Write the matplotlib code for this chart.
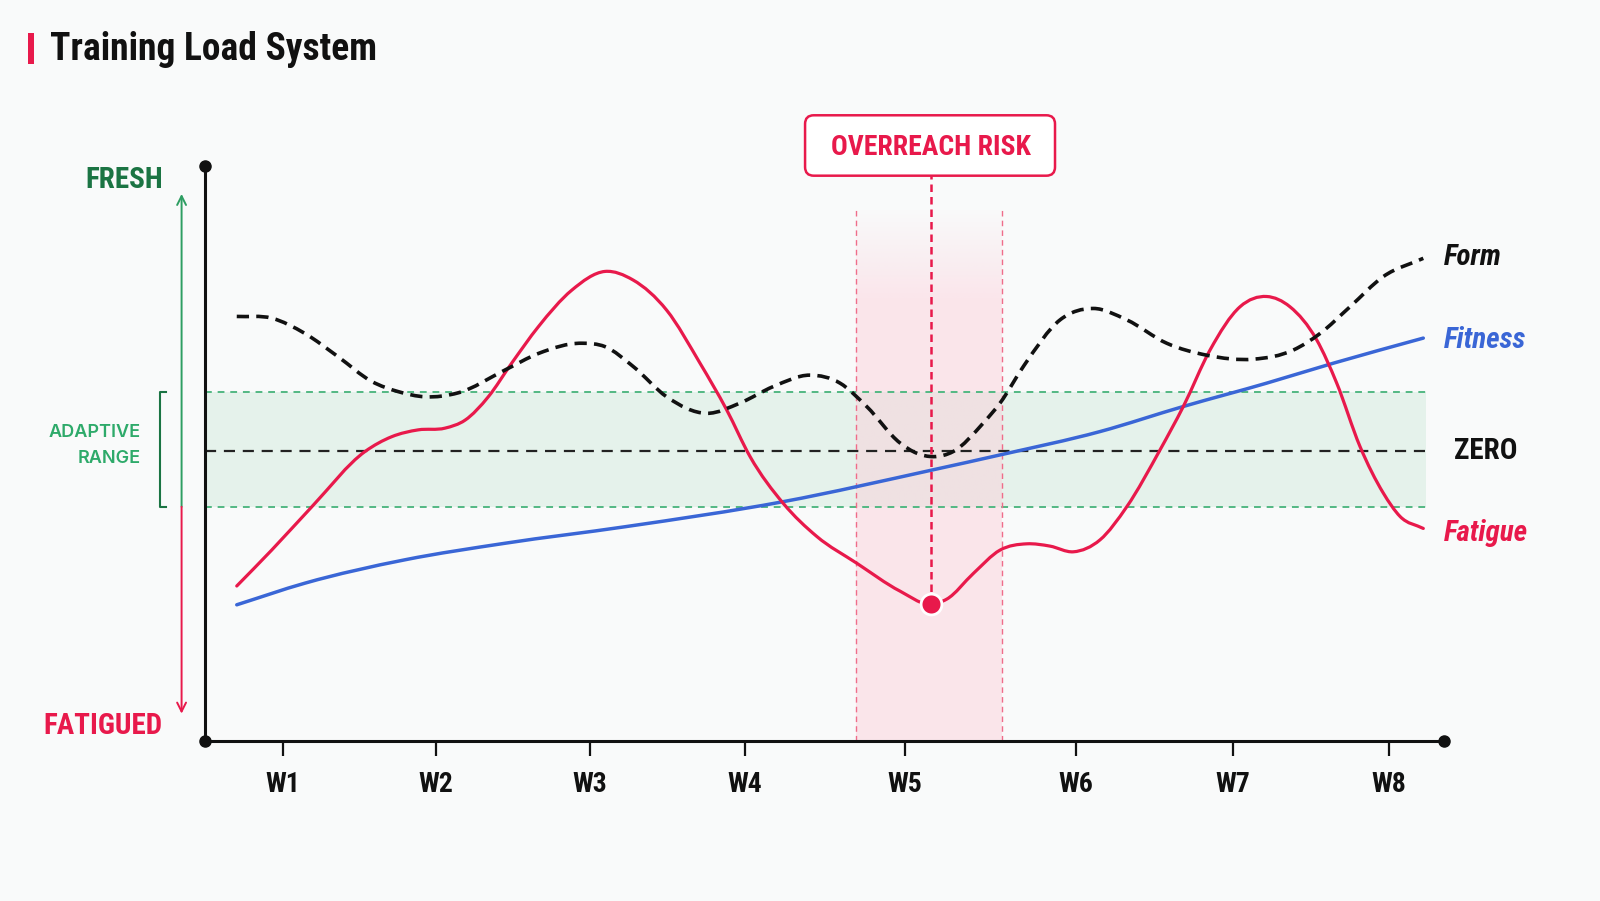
import numpy as np
import matplotlib
matplotlib.use('Agg')
import matplotlib.pyplot as plt
from matplotlib import font_manager
from matplotlib.path import Path
from matplotlib.patches import PathPatch, FancyBboxPatch, Rectangle

# =========================
# DATA
# =========================

weeks = ['W1', 'W2', 'W3', 'W4', 'W5', 'W6', 'W7', 'W8']
week_pos = [1.0, 1.965, 2.943, 3.924, 4.937, 6.019, 7.013, 8.0]

form_x = [0.707, 0.928, 1.139, 1.350, 1.561, 1.730, 1.899, 2.109, 2.405, 2.616,
          2.891, 3.038, 3.217, 3.428, 3.682, 3.892, 4.103, 4.335, 4.525, 4.694,
          4.905, 5.011, 5.116, 5.242, 5.432, 5.538, 5.690, 5.918, 6.128, 6.340,
          6.593, 6.846, 7.141, 7.394, 7.563, 7.753, 7.964, 8.217]
form_y = [23.6, 23.3, 20.6, 16.5, 12.2, 10.4, 9.5, 10.2, 14.2, 17.1,
          18.9, 18.3, 14.8, 9.5, 6.6, 8.4, 11.3, 13.3, 11.9, 7.8,
          1.4, -0.4, -1.0, -0.1, 4.9, 8.4, 15.0, 23.0, 25.0, 23.0,
          18.9, 16.8, 16.1, 17.7, 20.6, 25.3, 30.6, 33.8]

fitness_x = [0.707, 1.139, 1.772, 2.405, 3.165, 4.166, 5.116, 5.538, 6.171,
             6.698, 7.226, 7.648, 8.217]
fitness_y = [-27.0, -23.2, -19.1, -16.2, -13.3, -8.9, -3.3, -0.7, 3.4,
             7.8, 11.9, 15.4, 19.8]

fatigue_x = [0.707, 0.928, 1.182, 1.519, 1.688, 1.856, 2.025, 2.152, 2.299, 2.447,
             2.616, 2.827, 3.038, 3.215, 3.428, 3.639, 3.808, 3.956, 4.166, 4.378,
             4.631, 4.905, 5.099, 5.201, 5.369, 5.538, 5.707, 5.854, 6.002, 6.171,
             6.340, 6.551, 6.698, 6.867, 7.057, 7.226, 7.373, 7.542, 7.669, 7.816,
             7.964, 8.070, 8.217]
fatigue_y = [-23.7, -17.4, -9.8, -0.1, 2.5, 3.7, 4.0, 5.4, 9.5, 15.4,
             21.8, 28.2, 31.5, 30.0, 24.7, 15.4, 7.2, -1.0, -9.2, -15.0,
             -19.7, -24.6, -26.9, -26.0, -21.5, -17.4, -16.3, -16.7, -17.7, -15.6,
             -9.8, 0.2, 7.8, 17.7, 25.3, 27.1, 25.3, 19.5, 11.9, 0.8,
             -7.4, -11.5, -13.6]

adaptive_range = (-9.8, 10.35)
overreach_window = (4.627, 5.549)
overreach_point = (5.099, -26.9)

# =========================
# STYLE
# =========================

BG = '#f9fafa'
RED = '#e8194b'
BLUE = '#3a66d6'
GREEN = '#2e9e62'
DARK_GREEN = '#1b7443'
INK = '#111111'

names = {f.name for f in font_manager.fontManager.ttflist}
COND = next((n for n in ['Roboto Condensed', 'Liberation Sans Narrow', 'Roboto']
             if n in names), 'DejaVu Sans')
SANS = next((n for n in ['Inter', 'Roboto', 'Open Sans'] if n in names), 'DejaVu Sans')

plt.rcParams['font.family'] = [COND, 'DejaVu Sans']


def smooth_path(xs, ys):
    # piecewise cubic hermite through the read points, written as beziers
    x = np.asarray(xs, float)
    y = np.asarray(ys, float)
    h = np.diff(x)
    d = np.diff(y) / h
    m = np.empty_like(y)
    m[0], m[-1] = d[0], d[-1]
    m[1:-1] = (h[:-1] * d[1:] + h[1:] * d[:-1]) / (h[:-1] + h[1:])
    verts = [(x[0], y[0])]
    codes = [Path.MOVETO]
    for i in range(len(x) - 1):
        verts += [(x[i] + h[i] / 3, y[i] + m[i] * h[i] / 3),
                  (x[i + 1] - h[i] / 3, y[i + 1] - m[i + 1] * h[i] / 3),
                  (x[i + 1], y[i + 1])]
        codes += [Path.CURVE4] * 3
    return Path(verts, codes)


# =========================
# FIGURE
# =========================

fig = plt.figure(figsize=(16, 9.01), dpi=100, facecolor=BG)
ax = fig.add_axes([205 / 1600, 160 / 901, 1239 / 1600, 575 / 901])
ax.set_facecolor(BG)

XMIN, XMAX = 0.506, 8.348
YMIN, YMAX = -50.9, 50.0
BAND_END = 8.231

# adaptive range band
ax.fill_between([XMIN, BAND_END], *adaptive_range, color='#e5f2eb', zorder=1, lw=0)
ax.hlines(adaptive_range, XMIN, BAND_END, colors='#52b883', lw=1.4,
          linestyles=(0, (3.5, 3)), zorder=2)
ax.hlines(0, XMIN, BAND_END, colors='#222222', lw=1.6,
          linestyles=(0, (5, 3.5)), zorder=2)

# overreach window with fading top
top = 42.5
ramp = np.clip((top - np.linspace(top, YMIN, 300)) / 16, 0, 1) * 0.45
img = np.zeros((300, 1, 4))
img[..., 0], img[..., 1], img[..., 2] = 0.99, 0.80, 0.85
img[:, 0, 3] = ramp
ax.imshow(img, extent=[overreach_window[0], overreach_window[1], YMIN, top],
          aspect='auto', zorder=1.5, interpolation='bilinear')
ax.vlines(overreach_window, YMIN, top, colors='#ef6d8a', lw=1.0,
          linestyles=(0, (4, 3)), zorder=2)

# curves
ax.add_patch(PathPatch(smooth_path(fitness_x, fitness_y), fill=False,
                       ec=BLUE, lw=2.5, zorder=3, capstyle='round'))
ax.add_patch(PathPatch(smooth_path(fatigue_x, fatigue_y), fill=False,
                       ec=RED, lw=2.3, zorder=3, capstyle='round'))
ax.add_patch(PathPatch(smooth_path(form_x, form_y), fill=False,
                       ec=INK, lw=2.6, ls=(0, (3.4, 2.0)), zorder=4))

# overreach marker
px, py = overreach_point
ax.vlines(px, py, 48.3, colors=RED, lw=1.8, linestyles=(0, (3, 2)), zorder=5)
ax.plot(px, py, 'o', ms=15, mfc=RED, mec='white', mew=2, zorder=6)
box = FancyBboxPatch((4.304, 48.3), 5.886 - 4.304, 10.6,
                     boxstyle='round,pad=0,rounding_size=0.055',
                     mutation_aspect=158 / 5.7, fc='white', ec=RED, lw=1.8,
                     clip_on=False, zorder=6)
ax.add_patch(box)
ax.text(px, 53.2, 'OVERREACH RISK', color=RED, fontsize=20, fontweight='bold',
        ha='center', va='center', zorder=7, clip_on=False)

ax.set_xlim(XMIN, XMAX)
ax.set_ylim(YMIN, YMAX)

# axes
for s in ['top', 'right']:
    ax.spines[s].set_visible(False)
for s in ['left', 'bottom']:
    ax.spines[s].set_linewidth(2.2)
    ax.spines[s].set_color(INK)
ax.plot([0, 0, 1], [1, 0, 0], 'o', ms=8, color=INK, transform=ax.transAxes,
        clip_on=False, zorder=8)

ax.set_yticks([])
ax.set_xticks(week_pos)
ax.set_xticklabels(weeks, fontsize=20, fontweight='bold', color=INK)
ax.tick_params(axis='x', length=10.8, width=1.6, color=INK, pad=11)

# left annotations
ytr = ax.get_yaxis_transform()
ax.text(-0.034, 47.6, 'FRESH', transform=ytr, ha='right', va='center',
        fontsize=21, fontweight='bold', color=DARK_GREEN)
ax.text(-0.034, -48.2, 'FATIGUED', transform=ytr, ha='right', va='center',
        fontsize=21, fontweight='bold', color=RED)
ax.text(-0.052, 1.0, 'ADAPTIVE\nRANGE', transform=ytr, ha='right', va='center',
        fontsize=13, fontweight='semibold', color='#2eaa6a', family=SANS,
        linespacing=1.7)

ax.annotate('', xy=(-0.0189, 45.1), xytext=(-0.0189, adaptive_range[0]),
            xycoords=ytr, textcoords=ytr,
            arrowprops=dict(arrowstyle='->', color=GREEN, lw=1.4,
                            mutation_scale=16, shrinkA=0, shrinkB=0))
ax.annotate('', xy=(-0.0189, -46.1), xytext=(-0.0189, adaptive_range[0]),
            xycoords=ytr, textcoords=ytr,
            arrowprops=dict(arrowstyle='->', color=RED, lw=1.4,
                            mutation_scale=16, shrinkA=0, shrinkB=0))
ax.plot([-0.0315, -0.0363, -0.0363, -0.0315],
        [adaptive_range[1], adaptive_range[1], adaptive_range[0], adaptive_range[0]],
        color=DARK_GREEN, lw=1.5, transform=ytr, clip_on=False)

# right labels
ax.text(1.0, 34.0, 'Form', transform=ytr, ha='left', va='center', fontsize=21,
        fontweight='bold', fontstyle='italic', color=INK)
ax.text(1.0, 19.5, 'Fitness', transform=ytr, ha='left', va='center', fontsize=21,
        fontweight='bold', fontstyle='italic', color=BLUE)
ax.text(1.008, 0.0, 'ZERO', transform=ytr, ha='left', va='center', fontsize=21,
        fontweight='bold', color=INK)
ax.text(1.0, -14.4, 'Fatigue', transform=ytr, ha='left', va='center', fontsize=21,
        fontweight='bold', fontstyle='italic', color=RED)

# title
fig.add_artist(Rectangle((27.5 / 1600, 1 - 64 / 901), 6.2 / 1600, 31 / 901,
                         transform=fig.transFigure, color=RED, lw=0))
fig.text(50 / 1600, 1 - 49 / 901, 'Training Load System', fontsize=27,
         fontweight='bold', color=INK, ha='left', va='center')

fig.savefig('out.png', dpi=100, facecolor=BG)
